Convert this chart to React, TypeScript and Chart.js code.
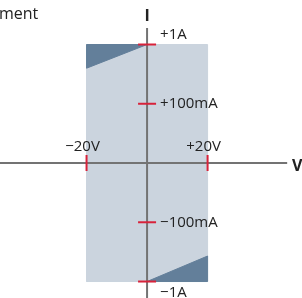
import React, { useEffect, useRef } from "react";
import { Chart, registerables } from "chart.js";

Chart.register(...registerables);

// Data
const voltageLimit = [-20, 20]; // V
const voltageLabels = ["\u221220V", "+20V"];
const currentLevels = [2, 1, -1, -2]; // equally spaced range positions
const currentLabels = ["+1A", "+100mA", "\u2212100mA", "\u22121A"];
const topTriangle = [
  { x: -20, y: 2 },
  { x: 0, y: 2 },
  { x: -20, y: 1.6 },
];
const bottomTriangle = [
  { x: 0, y: -2 },
  { x: 20, y: -2 },
  { x: 20, y: -1.57 },
];
const titleText = "ment";
const axisNames = { x: "V", y: "I" };

const X_MIN = -48.6;
const X_MAX = 51.2;
const Y_MIN = -2.278;
const Y_MAX = 2.751;

const LIGHT = "#cbd4de";
const DARK = "#637f9a";
const AXIS = "#737373";
const RED = "#d8223a";
const TEXT = "#222222";
const FONT = "'Open Sans', 'Noto Sans', sans-serif";

export default function App() {
  const ref = useRef<HTMLCanvasElement | null>(null);
  useEffect(() => {
    document.body.style.margin = "0";
    const canvas = ref.current!;
    const rect = [
      { x: voltageLimit[0], y: currentLevels[3] },
      { x: voltageLimit[1], y: currentLevels[3] },
      { x: voltageLimit[1], y: currentLevels[0] },
      { x: voltageLimit[0], y: currentLevels[0] },
    ];
    const closed = (pts: { x: number; y: number }[]) => [...pts, pts[0]];
    const poly = (data: any[], color: string, order: number) => ({
      type: "line" as const,
      data: closed(data),
      order,
      showLine: true,
      fill: "shape",
      backgroundColor: color,
      borderColor: color,
      borderWidth: 1,
      pointRadius: 0,
      tension: 0,
    });
    const seg = (data: any[], color: string, w: number) => ({
      type: "line" as const,
      data,
      order: 1,
      showLine: true,
      fill: false,
      borderColor: color,
      borderWidth: w,
      pointRadius: 0,
      tension: 0,
    });
    const datasets: any[] = [
      poly(rect, LIGHT, 5),
      poly(topTriangle, DARK, 4),
      poly(bottomTriangle, DARK, 4),
      seg([{ x: X_MIN, y: 0 }, { x: 46.3, y: 0 }], AXIS, 2),
      seg([{ x: 0, y: 2.28 }, { x: 0, y: Y_MIN }], AXIS, 2),
    ];

    const labelPlugin = {
      id: "labels",
      afterDatasetsDraw(chart: any) {
        const { ctx, scales } = chart;
        const xs = scales.x;
        const ys = scales.y;
        const x0 = xs.getPixelForValue(0);
        const y0 = ys.getPixelForValue(0);
        ctx.save();
        // red ticks
        ctx.strokeStyle = RED;
        ctx.lineWidth = 2;
        voltageLimit.forEach((v) => {
          const px = xs.getPixelForValue(v);
          ctx.beginPath();
          ctx.moveTo(px, y0 - 8);
          ctx.lineTo(px, y0 + 8);
          ctx.stroke();
        });
        currentLevels.forEach((c) => {
          const py = ys.getPixelForValue(c);
          ctx.beginPath();
          ctx.moveTo(x0 - 9, py);
          ctx.lineTo(x0 + 9, py);
          ctx.stroke();
        });
        // labels
        ctx.fillStyle = TEXT;
        ctx.font = `15px ${FONT}`;
        ctx.textBaseline = "middle";
        ctx.textAlign = "center";
        voltageLimit.forEach((v, i) => {
          const px = xs.getPixelForValue(v);
          ctx.fillText(voltageLabels[i], px - 4, y0 - 16);
        });
        ctx.textAlign = "left";
        currentLevels.forEach((c, i) => {
          const py = ys.getPixelForValue(c);
          let dy = 0;
          if (i === 0) dy = -10;
          if (i === 3) dy = 11;
          ctx.fillText(currentLabels[i], x0 + 13, py + dy);
        });
        // axis names
        ctx.font = `bold 16px ${FONT}`;
        ctx.textAlign = "center";
        ctx.fillText(axisNames.y, x0, 16);
        ctx.textAlign = "left";
        ctx.fillText(axisNames.x, 292, y0 + 3);
        // title fragment
        ctx.font = `16px ${FONT}`;
        ctx.textBaseline = "alphabetic";
        ctx.fillText(titleText, -1, 19);
        ctx.restore();
      },
    };

    const chart = new Chart(canvas, {
      type: "scatter",
      data: { datasets },
      options: {
        animation: false,
        responsive: false,
        maintainAspectRatio: false,
        layout: { padding: 0 },
        plugins: { legend: { display: false }, tooltip: { enabled: false } },
        scales: {
          x: { type: "linear", display: false, min: X_MIN, max: X_MAX },
          y: { type: "linear", display: false, min: Y_MIN, max: Y_MAX },
        },
      },
      plugins: [labelPlugin],
    });
    return () => chart.destroy();
  }, []);
  return <canvas ref={ref} width={302} height={298} style={{ display: "block" }} />;
}
